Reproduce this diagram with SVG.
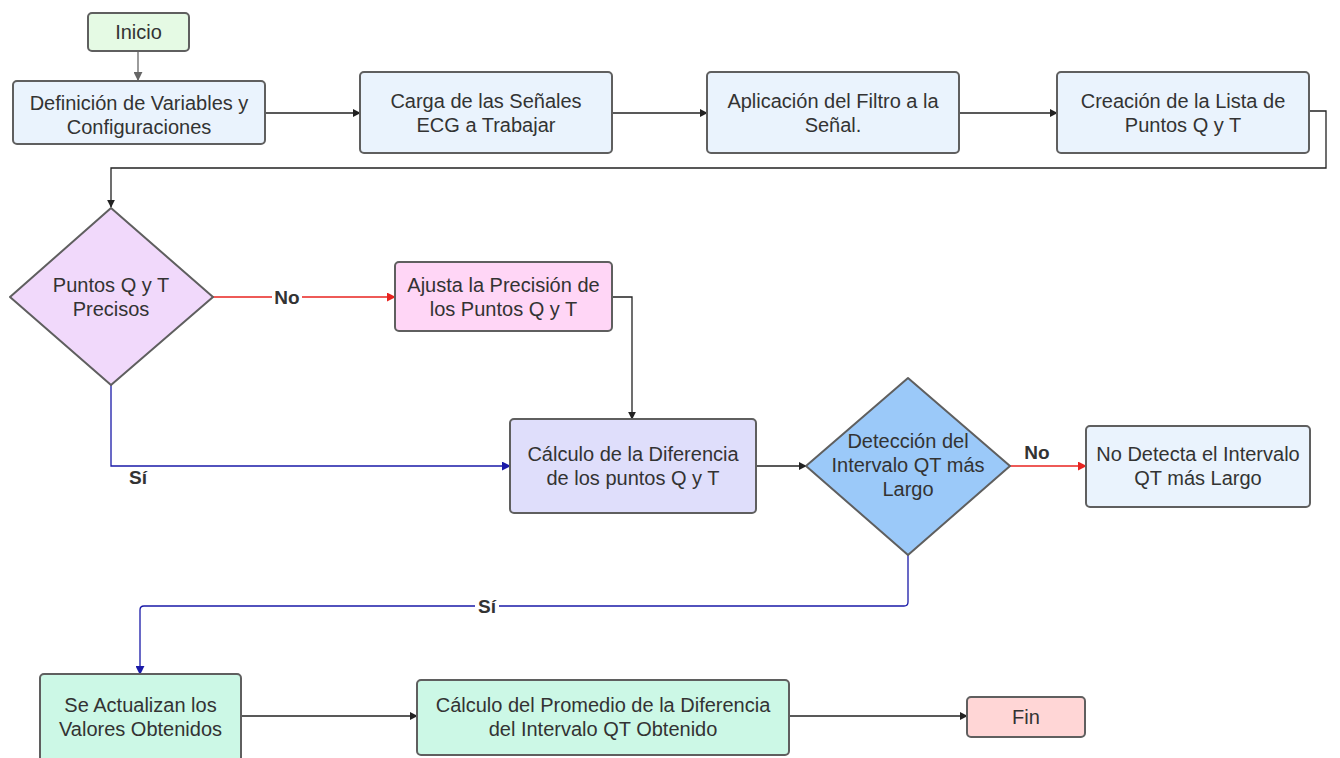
<svg xmlns="http://www.w3.org/2000/svg" width="1340" height="758" viewBox="0 0 1340 758">
  <defs>
    <style>
      .box { stroke: #5f5f5f; stroke-width: 2; }
      .lbl { font-family: "Liberation Sans", Arial, sans-serif; font-size: 20px; fill: #333333; text-anchor: middle; }
      .edge { fill: none; stroke-width: 1.3; }
      .blk { stroke: #222222; }
      .gry { stroke: #666666; }
      .red { stroke: #e8231f; }
      .blu { stroke: #1a1aa8; }
      .tag { font-family: "Liberation Sans", Arial, sans-serif; font-size: 19px; font-weight: bold; fill: #333333; text-anchor: middle; }
    </style>
    <marker id="ah-blk" viewBox="0 0 10 10" refX="9" refY="5" markerWidth="8" markerHeight="8" markerUnits="userSpaceOnUse" orient="auto">
      <path d="M0,0 L10,5 L0,10 z" fill="#222222"/>
    </marker>
    <marker id="ah-gry" viewBox="0 0 10 10" refX="9" refY="5" markerWidth="9" markerHeight="9" markerUnits="userSpaceOnUse" orient="auto">
      <path d="M0,0 L10,5 L0,10 z" fill="#666666"/>
    </marker>
    <marker id="ah-red" viewBox="0 0 10 10" refX="9" refY="5" markerWidth="9" markerHeight="9" markerUnits="userSpaceOnUse" orient="auto">
      <path d="M0,0 L10,5 L0,10 z" fill="#e8231f"/>
    </marker>
    <marker id="ah-blu" viewBox="0 0 10 10" refX="9" refY="5" markerWidth="9" markerHeight="9" markerUnits="userSpaceOnUse" orient="auto">
      <path d="M0,0 L10,5 L0,10 z" fill="#1a1aa8"/>
    </marker>
  </defs>
  <rect width="1340" height="758" fill="#ffffff"/>

  <g id="connectors">
    <path class="edge gry" d="M138,51 V80" marker-end="url(#ah-gry)"/>
    <path class="edge blk" d="M265,113 H360" marker-end="url(#ah-blk)"/>
    <path class="edge blk" d="M612,113 H707" marker-end="url(#ah-blk)"/>
    <path class="edge blk" d="M959,113 H1057" marker-end="url(#ah-blk)"/>
    <path class="edge blk" d="M1309,111 H1326 V168 H111 V207" marker-end="url(#ah-blk)"/>
    <path class="edge red" d="M213,297 H395" marker-end="url(#ah-red)"/>
    <path class="edge blk" d="M612,297 H632 V419" marker-end="url(#ah-blk)"/>
    <path class="edge blu" d="M111,385 V466 H510" marker-end="url(#ah-blu)"/>
    <path class="edge blk" d="M756,466 H806" marker-end="url(#ah-blk)"/>
    <path class="edge red" d="M1010,466 H1086" marker-end="url(#ah-red)"/>
    <path class="edge blu" d="M908,555 V602 Q908,606 904,606 H144 Q140,606 140,610 V674" marker-end="url(#ah-blu)"/>
    <path class="edge blk" d="M241,716 H417" marker-end="url(#ah-blk)"/>
    <path class="edge blk" d="M789,716 H967" marker-end="url(#ah-blk)"/>
    <rect x="272" y="286" width="30" height="22" fill="#ffffff"/>
    <text class="tag" x="287" y="304">No</text>
    <text class="tag" x="138" y="484">Sí</text>
    <text class="tag" x="1037" y="459">No</text>
    <rect x="475" y="595" width="24" height="22" fill="#ffffff"/>
    <text class="tag" x="487" y="613">Sí</text>
  </g>

  <g id="inicio">
    <rect class="box" x="88" y="13" width="101" height="38" rx="4" fill="#e5fae4"/>
    <text class="lbl" x="138.5" y="39">Inicio</text>
  </g>
  <g id="definicion">
    <rect class="box" x="13" y="81" width="252" height="63" rx="4" fill="#eaf3fd"/>
    <text class="lbl" x="139" y="110">Definición de Variables y</text>
    <text class="lbl" x="139" y="134">Configuraciones</text>
  </g>
  <g id="carga">
    <rect class="box" x="360" y="72" width="252" height="81" rx="4" fill="#eaf3fd"/>
    <text class="lbl" x="486" y="108">Carga de las Señales</text>
    <text class="lbl" x="486" y="132">ECG a Trabajar</text>
  </g>
  <g id="aplicacion">
    <rect class="box" x="707" y="72" width="252" height="81" rx="4" fill="#eaf3fd"/>
    <text class="lbl" x="833" y="108">Aplicación del Filtro a la</text>
    <text class="lbl" x="833" y="132">Señal.</text>
  </g>
  <g id="creacion">
    <rect class="box" x="1057" y="72" width="252" height="81" rx="4" fill="#eaf3fd"/>
    <text class="lbl" x="1183" y="108">Creación de la Lista de</text>
    <text class="lbl" x="1183" y="132">Puntos Q y T</text>
  </g>
  <g id="precisos">
    <path class="box" d="M111,208 L213,297 L111,385 L10,297 Z" fill="#f1d9fb" stroke-linejoin="round"/>
    <text class="lbl" x="111" y="292">Puntos Q y T</text>
    <text class="lbl" x="111" y="316">Precisos</text>
  </g>
  <g id="ajusta">
    <rect class="box" x="395" y="262" width="217" height="69" rx="4" fill="#ffd6f6"/>
    <text class="lbl" x="503.5" y="292">Ajusta la Precisión de</text>
    <text class="lbl" x="503.5" y="316">los Puntos Q y T</text>
  </g>
  <g id="calculo-diferencia">
    <rect class="box" x="510" y="419" width="246" height="94" rx="4" fill="#dfdefb"/>
    <text class="lbl" x="633" y="461">Cálculo de la Diferencia</text>
    <text class="lbl" x="633" y="485">de los puntos Q y T</text>
  </g>
  <g id="deteccion">
    <path class="box" d="M908,378 L1010,466 L908,555 L806,466 Z" fill="#9bc9f9" stroke-linejoin="round"/>
    <text class="lbl" x="908" y="448">Detección del</text>
    <text class="lbl" x="908" y="472">Intervalo QT más</text>
    <text class="lbl" x="908" y="496">Largo</text>
  </g>
  <g id="no-detecta">
    <rect class="box" x="1086" y="426" width="224" height="81" rx="4" fill="#eaf3fd"/>
    <text class="lbl" x="1198" y="461">No Detecta el Intervalo</text>
    <text class="lbl" x="1198" y="485">QT más Largo</text>
  </g>
  <g id="actualizan">
    <rect class="box" x="40" y="674" width="201" height="90" rx="4" fill="#ccf8e6"/>
    <text class="lbl" x="140.5" y="712">Se Actualizan los</text>
    <text class="lbl" x="140.5" y="736">Valores Obtenidos</text>
  </g>
  <g id="promedio">
    <rect class="box" x="417" y="680" width="372" height="75" rx="4" fill="#ccf8e6"/>
    <text class="lbl" x="603" y="712">Cálculo del Promedio de la Diferencia</text>
    <text class="lbl" x="603" y="736">del Intervalo QT Obtenido</text>
  </g>
  <g id="fin">
    <rect class="box" x="967" y="697" width="118" height="40" rx="4" fill="#ffd6d6"/>
    <text class="lbl" x="1026" y="724">Fin</text>
  </g>
</svg>
